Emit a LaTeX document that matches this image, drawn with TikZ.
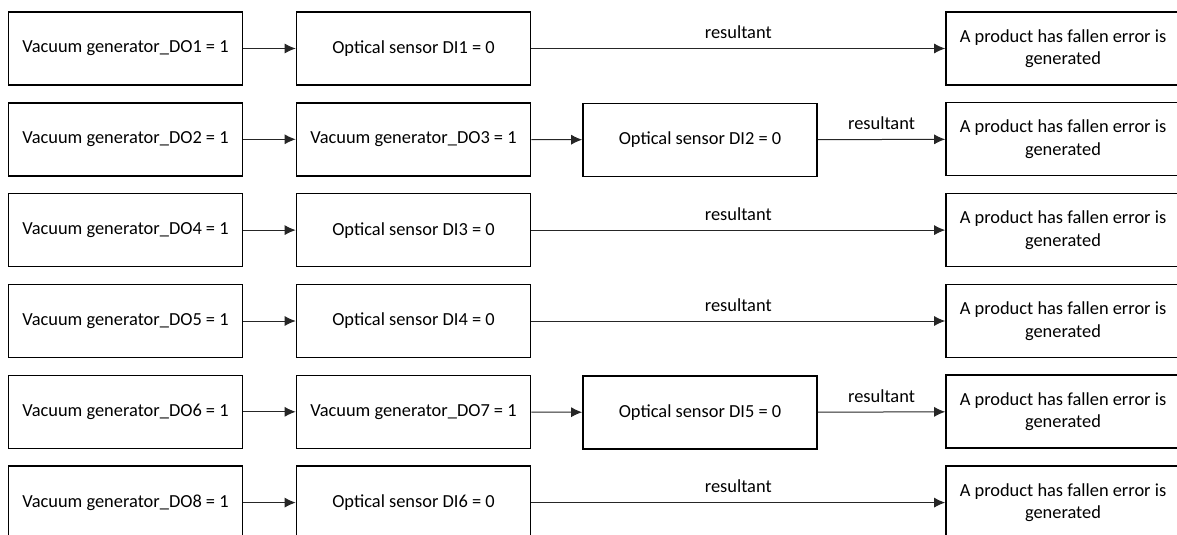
\documentclass[tikz,border=0pt]{standalone}
\usepackage{fontspec}
\setmainfont{Carlito}
\usetikzlibrary{arrows.meta}
\tikzset{
  box/.style={draw, line width=1.6pt, minimum width=234pt, minimum height=73pt, inner sep=0pt, align=center, font=\fontsize{18.4}{22.5}\selectfont},
  conn/.style={line width=1pt, draw=black!85, -{Latex[length=11pt,width=10pt]}},
  lbl/.style={font=\fontsize{18.4}{22.5}\selectfont, above, inner sep=4pt, yshift=5pt}
}
\begin{document}
\begin{tikzpicture}[x=1pt,y=-1pt]
\useasboundingbox (0,0) rectangle (1177,535);
% Row 1
\node[box] (a1) at (125.5,48.5) {Vacuum generator\_DO1 = 1};
\node[box] (b1) at (413.5,48.5) {Optical sensor DI1 = 0};
\node[box] (d1) at (1063,48.5) {A product has fallen error is\\generated};
% Row 2
\node[box] (a2) at (125.5,139.3) {Vacuum generator\_DO2 = 1};
\node[box] (b2) at (413.5,139.3) {Vacuum generator\_DO3 = 1};
\node[box] (c2) at (700,140) {Optical sensor DI2 = 0};
\node[box] (d2) at (1063,139) {A product has fallen error is\\generated};
% Row 3
\node[box] (a3) at (125.5,230.1) {Vacuum generator\_DO4 = 1};
\node[box] (b3) at (413.5,230.1) {Optical sensor DI3 = 0};
\node[box] (d3) at (1063,230.1) {A product has fallen error is\\generated};
% Row 4
\node[box] (a4) at (125.5,321) {Vacuum generator\_DO5 = 1};
\node[box] (b4) at (413.5,321) {Optical sensor DI4 = 0};
\node[box] (d4) at (1063,321) {A product has fallen error is\\generated};
% Row 5
\node[box] (a5) at (125.5,411.8) {Vacuum generator\_DO6 = 1};
\node[box] (b5) at (413.5,411.8) {Vacuum generator\_DO7 = 1};
\node[box] (c5) at (700,412.5) {Optical sensor DI5 = 0};
\node[box] (d5) at (1063,411.5) {A product has fallen error is\\generated};
% Row 6
\node[box] (a6) at (125.5,502.6) {Vacuum generator\_DO8 = 1};
\node[box] (b6) at (413.5,502.6) {Optical sensor DI6 = 0};
\node[box] (d6) at (1063,502.6) {A product has fallen error is\\generated};
% connectors
\draw[conn] (a1) -- (b1);
\draw[conn] (b1) -- node[lbl] {resultant} (d1);
\draw[conn] (a2) -- (b2);
\draw[conn] (b2) -- (c2);
\draw[conn] (c2) -- node[lbl] {resultant} (d2);
\draw[conn] (a3) -- (b3);
\draw[conn] (b3) -- node[lbl] {resultant} (d3);
\draw[conn] (a4) -- (b4);
\draw[conn] (b4) -- node[lbl] {resultant} (d4);
\draw[conn] (a5) -- (b5);
\draw[conn] (b5) -- (c5);
\draw[conn] (c5) -- node[lbl] {resultant} (d5);
\draw[conn] (a6) -- (b6);
\draw[conn] (b6) -- node[lbl] {resultant} (d6);
\end{tikzpicture}
\end{document}
